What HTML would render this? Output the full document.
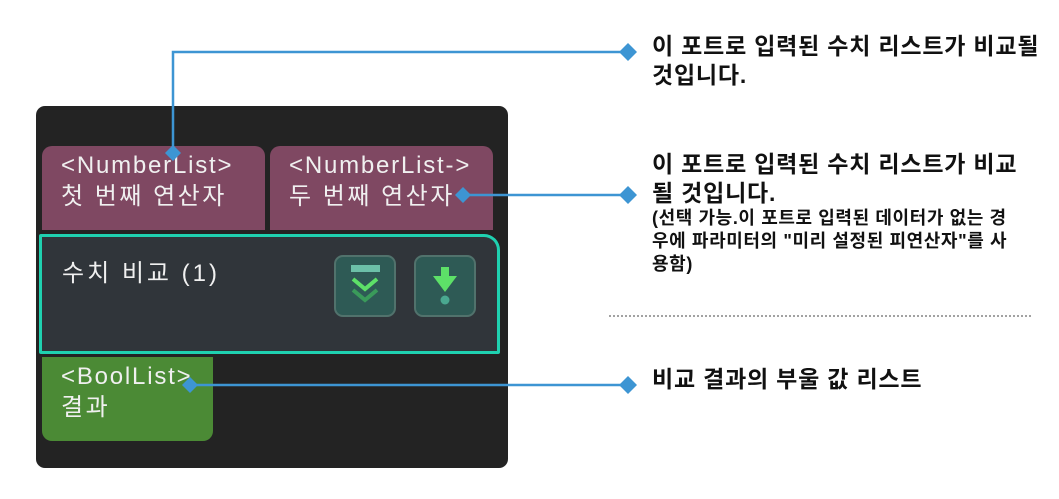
<!DOCTYPE html>
<html><head><meta charset="utf-8"><style>
body{margin:0;width:1059px;height:499px;background:#fff;position:relative;overflow:hidden;font-family:"Liberation Sans","Noto Sans CJK KR",sans-serif}
.a{position:absolute}
.port{color:#f0f0f0;font-size:24px;line-height:31px;padding:4px 0 0 19px;box-sizing:border-box;white-space:nowrap;letter-spacing:1.8px}
.k{letter-spacing:2.5px}
.t{position:absolute;left:652px;font-weight:bold;color:#111;font-size:23px;line-height:29px;letter-spacing:0.8px;white-space:nowrap}
.ic{position:absolute;width:62px;height:62px;border:2px solid #51726c;border-radius:9px;background:#2e5a55;box-sizing:border-box}
</style></head><body>
<div class="a" style="left:36px;top:106px;width:472px;height:362px;background:#232323;border-radius:9px"></div>
<div class="a port" style="left:42px;top:146px;width:223px;height:84px;background:#7f4862;border-radius:10px 10px 0 0">&lt;NumberList&gt;<br><span class="k">첫 번째 연산자</span></div>
<div class="a port" style="left:270px;top:146px;width:223px;height:84px;background:#7f4862;border-radius:10px 10px 0 0;overflow:hidden">&lt;NumberList-&gt;<br><span class="k">두 번째 연산자</span></div>
<div class="a" style="left:39px;top:234px;width:461px;height:120px;background:#30353a;border:3px solid #1fd1b0;border-radius:2px 16px 2px 2px;box-sizing:border-box"></div>
<div class="a" style="left:62px;top:253px;color:#f0f0f0;font-size:24px;letter-spacing:3px">수치 비교 (1)</div>
<div class="ic" style="left:334px;top:255px">
<svg width="58" height="58" viewBox="0 0 58 58"><rect x="15" y="8" width="29" height="7" fill="#6cc0a8"/><polyline points="17,22 29,32 41,22" fill="none" stroke="#5de068" stroke-width="4"/><polyline points="17,33 29,43 41,33" fill="none" stroke="#3a9a5a" stroke-width="4"/></svg></div>
<div class="ic" style="left:414px;top:255px">
<svg width="58" height="58" viewBox="0 0 58 58"><rect x="25" y="10" width="8" height="10" fill="#5de068"/><polygon points="17,19 41,19 29,35" fill="#5de068"/><circle cx="29" cy="43" r="4.5" fill="#4aa890"/></svg></div>
<div class="a port" style="left:42px;top:357px;width:171px;height:84px;background:#4b8a35;border-radius:0 0 10px 10px">&lt;BoolList&gt;<br><span class="k">결과</span></div>
<svg class="a" style="left:0;top:0" width="1059" height="499">
<g stroke="#3d95d3" stroke-width="2.5" fill="none">
<polyline points="173,153 173,52 628,52"/>
<line x1="463" y1="195" x2="628" y2="195"/>
<line x1="190" y1="385" x2="628" y2="385"/>
</g>
<g fill="#3d95d3">
<polygon points="173,145 181,153 173,161 165,153"/>
<polygon points="628,43 637,52 628,61 619,52"/>
<polygon points="463,187 471,195 463,203 455,195"/>
<polygon points="628,186 637,195 628,204 619,195"/>
<polygon points="190,377 198,385 190,393 182,385"/>
<polygon points="628,376 637,385 628,394 619,385"/>
</g>
<line x1="609" y1="316" x2="1032" y2="316" stroke="#444" stroke-width="1" stroke-dasharray="2,2"/>
</svg>
<div class="t" style="top:32px">이 포트로 입력된 수치 리스트가 비교될<br>것입니다.</div>
<div class="t" style="top:150px">이 포트로 입력된 수치 리스트가 비교<br>될 것입니다.</div>
<div class="t" style="top:207px;font-size:18px;line-height:23px;letter-spacing:0.6px">(선택 가능.이 포트로 입력된 데이터가 없는 경<br>우에 파라미터의 "미리 설정된 피연산자"를 사<br>용함)</div>
<div class="t" style="top:365px">비교 결과의 부울 값 리스트</div>
</body></html>
